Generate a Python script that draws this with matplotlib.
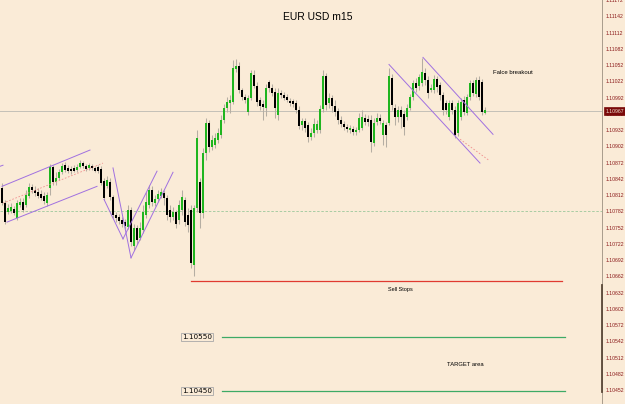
import matplotlib
matplotlib.use("Agg")
import matplotlib.pyplot as plt
import numpy as np

# ---------------- data (EUR/USD m15 candles) ----------------
opens = [1.10825,1.10797,1.10780,1.10782,1.10786,1.10769,1.10793,1.10799,1.10793,1.10810,
         1.10827,1.10821,1.10817,1.10814,1.10810,1.10797,1.10825,1.10863,1.10836,1.10843,
         1.10854,1.10867,1.10862,1.10860,1.10862,1.10858,1.10863,1.10871,1.10865,1.10862,
         1.10865,1.10862,1.10863,1.10860,1.10838,1.10828,1.10836,1.10808,1.10775,1.10771,
         1.10766,1.10762,1.10753,1.10784,1.10718,1.10751,1.10732,1.10747,1.10775,1.10793,
         1.10821,1.10797,1.10804,1.10810,1.10815,1.10806,1.10784,1.10771,1.10780,1.10766,
         1.10784,1.10803,1.10775,1.10784,1.10683,1.10788,1.10836,1.10779,1.10889,1.10945,
         1.10900,1.10904,1.10913,1.10922,1.10950,1.10972,1.10982,1.10983,1.11044,1.11050,
         1.11006,1.10993,1.10965,1.10991,1.11033,1.11013,1.10987,1.10980,1.10972,1.11020,
         1.11009,1.11002,1.10959,1.11000,1.10996,1.10993,1.10985,1.10985,1.10982,1.10969,
         1.10941,1.10948,1.10941,1.10919,1.10926,1.10932,1.10932,1.10970,1.11031,1.10982,
         1.10991,1.10976,1.10967,1.10950,1.10943,1.10937,1.10932,1.10934,1.10928,1.10932,
         1.10935,1.10954,1.10952,1.10950,1.10908,1.10946,1.10954,1.10922,1.10941,1.10945,
         1.11028,1.10972,1.10956,1.10969,1.10961,1.10956,1.10972,1.10993,1.11018,1.11013,
         1.11018,1.11037,1.11024,1.11006,1.11006,1.11026,1.11015,1.10996,1.10982,1.10956,
         1.10982,1.10969,1.10926,1.10956,1.10987,1.10963,1.10993,1.11018,1.10998,1.11024,
         1.11020,1.10963]
closes = [1.10797,1.10762,1.10788,1.10790,1.10779,1.10797,1.10799,1.10784,1.10812,1.10827,
          1.10821,1.10815,1.10810,1.10806,1.10801,1.10812,1.10863,1.10836,1.10843,1.10854,
          1.10865,1.10858,1.10856,1.10856,1.10856,1.10863,1.10871,1.10865,1.10860,1.10867,
          1.10862,1.10856,1.10856,1.10834,1.10806,1.10839,1.10808,1.10775,1.10769,1.10764,
          1.10758,1.10755,1.10784,1.10725,1.10751,1.10729,1.10751,1.10780,1.10799,1.10821,
          1.10799,1.10804,1.10814,1.10817,1.10806,1.10775,1.10771,1.10780,1.10758,1.10793,
          1.10808,1.10762,1.10756,1.10686,1.10788,1.10917,1.10779,1.10889,1.10945,1.10900,
          1.10913,1.10917,1.10926,1.10950,1.10972,1.10983,1.10987,1.11046,1.11050,1.11006,
          1.10993,1.10987,1.10991,1.11037,1.11013,1.10983,1.10976,1.10974,1.11009,1.11009,
          1.11000,1.10972,1.11000,1.10996,1.10991,1.10987,1.10982,1.10980,1.10969,1.10939,
          1.10948,1.10935,1.10919,1.10926,1.10943,1.10943,1.10970,1.11031,1.10978,1.10991,
          1.10976,1.10965,1.10950,1.10943,1.10937,1.10934,1.10935,1.10928,1.10932,1.10954,
          1.10956,1.10946,1.10946,1.10910,1.10945,1.10954,1.10948,1.10945,1.10922,1.11031,
          1.10978,1.10956,1.10969,1.10956,1.10937,1.10972,1.10993,1.11018,1.11009,1.11030,
          1.11039,1.11024,1.11000,1.11009,1.11026,1.11011,1.10996,1.10969,1.10969,1.10982,
          1.10969,1.10922,1.10982,1.10983,1.10965,1.10993,1.11018,1.11000,1.11024,1.10993,
          1.10965,1.10969]
highs = [1.10834,1.10803,1.10795,1.10797,1.10791,1.10803,1.10806,1.10806,1.10821,1.10834,
         1.10832,1.10828,1.10825,1.10821,1.10817,1.10817,1.10869,1.10867,1.10854,1.10860,
         1.10871,1.10873,1.10867,1.10865,1.10867,1.10869,1.10876,1.10874,1.10869,1.10871,
         1.10869,1.10865,1.10867,1.10865,1.10843,1.10847,1.10843,1.10812,1.10780,1.10777,
         1.10771,1.10767,1.10793,1.10790,1.10758,1.10756,1.10762,1.10793,1.10817,1.10830,
         1.10828,1.10812,1.10821,1.10825,1.10821,1.10812,1.10793,1.10790,1.10784,1.10803,
         1.10821,1.10808,1.10788,1.10793,1.10793,1.10932,1.10843,1.10898,1.10954,1.10950,
         1.10922,1.10926,1.10935,1.10959,1.10980,1.10993,1.10996,1.11061,1.11063,1.11057,
         1.11009,1.10998,1.10996,1.11042,1.11042,1.11020,1.10993,1.10987,1.11017,1.11024,
         1.11017,1.11009,1.11009,1.11006,1.11002,1.10998,1.10991,1.10989,1.10987,1.10976,
         1.10954,1.10954,1.10946,1.10935,1.10954,1.10950,1.10978,1.11042,1.11037,1.11000,
         1.10996,1.10987,1.10972,1.10958,1.10948,1.10943,1.10941,1.10939,1.10937,1.10963,
         1.10969,1.10961,1.10959,1.10959,1.10954,1.10963,1.10961,1.10950,1.10946,1.11046,
         1.11035,1.10980,1.10976,1.10976,1.10969,1.10980,1.10998,1.11024,1.11028,1.11035,
         1.11065,1.11046,1.11031,1.11017,1.11033,1.11031,1.11020,1.11002,1.10987,1.10987,
         1.10987,1.10976,1.10987,1.10991,1.10994,1.10998,1.11024,1.11024,1.11030,1.11031,
         1.11026,1.10974]
lows = [1.10793,1.10758,1.10777,1.10779,1.10775,1.10766,1.10790,1.10780,1.10790,1.10806,
        1.10815,1.10810,1.10806,1.10803,1.10795,1.10791,1.10812,1.10830,1.10830,1.10839,
        1.10851,1.10854,1.10852,1.10851,1.10854,1.10854,1.10862,1.10862,1.10856,1.10858,
        1.10858,1.10854,1.10852,1.10830,1.10803,1.10825,1.10803,1.10769,1.10762,1.10758,
        1.10753,1.10749,1.10749,1.10718,1.10710,1.10721,1.10729,1.10742,1.10769,1.10788,
        1.10791,1.10791,1.10799,1.10806,1.10793,1.10766,1.10762,1.10766,1.10751,1.10758,
        1.10775,1.10755,1.10744,1.10677,1.10662,1.10780,1.10751,1.10769,1.10876,1.10891,
        1.10895,1.10898,1.10908,1.10917,1.10945,1.10965,1.10963,1.10980,1.11039,1.11000,
        1.10987,1.10982,1.10959,1.10987,1.11009,1.10976,1.10969,1.10950,1.10958,1.11002,
        1.10994,1.10954,1.10950,1.10991,1.10987,1.10983,1.10976,1.10974,1.10963,1.10934,
        1.10932,1.10928,1.10910,1.10913,1.10919,1.10926,1.10926,1.10965,1.10969,1.10972,
        1.10965,1.10958,1.10943,1.10937,1.10932,1.10928,1.10926,1.10922,1.10922,1.10928,
        1.10932,1.10941,1.10939,1.10891,1.10902,1.10941,1.10943,1.10904,1.10900,1.10941,
        1.10969,1.10941,1.10946,1.10935,1.10922,1.10950,1.10969,1.10987,1.11002,1.11006,
        1.11013,1.11015,1.10991,1.11002,1.11000,1.11002,1.10987,1.10959,1.10961,1.10950,
        1.10961,1.10917,1.10921,1.10950,1.10959,1.10959,1.10987,1.10994,1.10993,1.10987,
        1.10959,1.10961]

price_ticks = [1.10452 + 0.0003 * k for k in range(25)]
current_price = 1.10967
dash_level = 1.10782
sell_stop_level = 1.10653
target_levels = [1.10550, 1.10450]
target_labels = ["1.10550", "1.10450"]

# trendlines: (x0_index, p0, x1_index, p1)
purple_lines = [
    (0.0, 1.10828, 29.33, 1.10895),
    (1.67, 1.10762, 31.67, 1.10828),
    (-0.67, 1.10865, 0.33, 1.10867),
    (34.0, 1.10804, 40.33, 1.10731),
    (40.33, 1.10731, 51.67, 1.10856),
    (37.0, 1.10862, 43.0, 1.10696),
    (43.0, 1.10696, 57.0, 1.10854),
    (129.0, 1.11053, 159.33, 1.10871),
    (140.33, 1.11066, 163.67, 1.10924),
]
pink_lines = [
    (0.33, 1.10797, 33.67, 1.10871),
    (152.67, 1.10915, 162.33, 1.10876),
]

# ---------------- figure ----------------
BG = "#FAEBD7"
fig = plt.figure(figsize=(6.25, 4.04), dpi=100, facecolor=BG)
ax = fig.add_axes([0, 0, 602 / 625, 1], facecolor=BG)
ax.set_xlim(-0.667, 200)
ax.set_ylim(1.104262, 1.111716)

n = len(opens)
x = np.arange(n)
o = np.array(opens); c = np.array(closes); h = np.array(highs); l = np.array(lows)

# horizontal reference lines
ax.axhline(current_price, color="#c4c0b8", lw=0.7, zorder=1)
ax.axhline(dash_level, color="#9cc89c", lw=0.6, ls=(0, (3, 2)), zorder=1)

# wicks
ax.vlines(x, l, h, color="#b5aea3", lw=0.75, zorder=2)
# bodies
bottoms = np.minimum(o, c)
heights = np.maximum(np.abs(c - o), 0.000025)
colors = np.where(c >= o, "#1fb51f", "#000000")
ax.bar(x, heights, bottom=bottoms, width=0.8, color=colors, linewidth=0, zorder=3)

# trendlines
for x0, p0, x1, p1 in purple_lines:
    ax.plot([x0, x1], [p0, p1], color="#a070e0", lw=0.7, zorder=4)
for x0, p0, x1, p1 in pink_lines:
    ax.plot([x0, x1], [p0, p1], color="#f09090", lw=0.6, ls=(0, (2, 2)), zorder=4)

# Sell stops line
ax.plot([63, 186.67], [sell_stop_level, sell_stop_level], color="#e03a30", lw=0.9, zorder=4)
ax.text(128.7, 1.10637, "Sell Stops", fontsize=4, family="Liberation Sans", va="center", ha="left")

# target lines and labels
for lvl, lab in zip(target_levels, target_labels):
    ax.plot([73.33, 187.67], [lvl, lvl], color="#3daa66", lw=0.9, zorder=4)
    ax.text(60.0, lvl, lab, fontsize=5.2, family="DejaVu Sans", va="center", ha="left",
            bbox=dict(boxstyle="square,pad=0.15", fc=BG, ec="#a8a8a8", lw=0.6))
ax.text(148.3, 1.10499, "TARGET area", fontsize=4.2, family="Liberation Sans", va="center", ha="left")
ax.text(163.7, 1.11039, "Falce breakout", fontsize=4.3, family="Liberation Sans", va="center", ha="left")

# title
fig.text(318 / 625, 1 - 17 / 404, "EUR USD m15", fontsize=7.5, family="Liberation Sans",
         ha="center", va="center")

# axes styling
for s in ["left", "top", "bottom"]:
    ax.spines[s].set_visible(False)
ax.spines["right"].set_color("#a89c8c")
ax.spines["right"].set_linewidth(0.7)
ax.set_xticks([])
ax.yaxis.tick_right()
ax.set_yticks(price_ticks)
ax.set_yticklabels([f"{t:.5f}" for t in price_ticks])
ax.tick_params(axis="y", length=0, pad=2.5, labelsize=3.7, labelcolor="#8b1a1a")
for lbl in ax.get_yticklabels():
    lbl.set_family("Liberation Sans")

# dark bar on the price scale
ax.plot([200, 200], [1.10448, 1.10646], color="#5a4838", lw=1.3, clip_on=False, zorder=5)

# current price label box
ax.text(1.006, current_price, "1.10967", transform=ax.get_yaxis_transform(), fontsize=3.7,
        family="Liberation Sans", color="#f0e0d0", va="center", ha="left", zorder=6,
        bbox=dict(boxstyle="square,pad=0.25", fc="#7a0a0a", ec="#7a0a0a", lw=0.5),
        clip_on=False)

fig.savefig("out.png", dpi=100, facecolor=BG)
